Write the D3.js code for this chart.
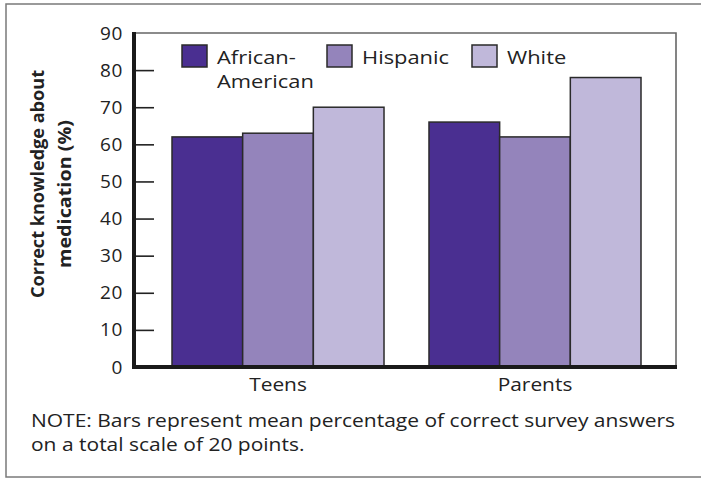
<!DOCTYPE html>
<html>
<head>
<meta charset="utf-8">
<script src="https://cdn.jsdelivr.net/npm/d3@7"></script>
<style>
  html, body { margin: 0; padding: 0; background: #fff; }
  svg { display: block; font-family: "Open Sans", "Noto Sans", sans-serif; }
</style>
</head>
<body>
<svg id="chart" width="701" height="478"></svg>
<script>
const groups = ["Teens", "Parents"];
const series = ["African-American", "Hispanic", "White"];
const legendLabels = [["African-", "American"], ["Hispanic"], ["White"]];
const africanAmerican = [62, 66];
const hispanic = [63, 62];
const white = [70, 78];
const yTicks = [0, 10, 20, 30, 40, 50, 60, 70, 80, 90];
const colors = ["#4a2f91", "#9484bb", "#c0b8da"];
const yTitle = ["Correct knowledge about", "medication (%)"];
const noteLines = ["NOTE: Bars represent mean percentage of correct survey answers", "on a total scale of 20 points."];

const values = [africanAmerican, hispanic, white];
const svg = d3.select("#chart");

// stretch a text/tspan element horizontally by a factor
function stretch(sel, k) {
  sel.each(function () {
    const cur = this.getComputedTextLength();
    if (cur > 0) d3.select(this).attr("textLength", cur * k).attr("lengthAdjust", "spacingAndGlyphs");
  });
}
function fit(sel, w) {
  sel.each(function () {
    const cur = this.getComputedTextLength();
    if (cur > 0) d3.select(this).attr("textLength", w).attr("lengthAdjust", "spacingAndGlyphs");
  });
}

// outer frame
svg.append("rect").attr("x", 6).attr("y", 4).attr("width", 710).attr("height", 473)
  .attr("fill", "none").attr("stroke", "#7a7a7a").attr("stroke-width", 1.5);

const plotL = 134, plotR = 676, plotT = 33, plotB = 367;
const y = d3.scaleLinear().domain([0, 90]).range([plotB, plotT]);
const x0 = d3.scaleBand().domain(groups).range([172, 641]).paddingInner(0.175).paddingOuter(0);
const x1 = d3.scaleBand().domain(series).range([0, x0.bandwidth()]).padding(0);
const color = d3.scaleOrdinal().domain(series).range(colors);

// plot frame (top and right)
svg.append("path")
  .attr("d", `M${plotL},${plotT}H${plotR}V${plotB}`)
  .attr("fill", "none").attr("stroke", "#666").attr("stroke-width", 1.6);

// bars
const data = [];
groups.forEach((g, gi) => series.forEach((s, si) => data.push({ g, s, v: values[si][gi] })));
svg.append("g").selectAll("rect").data(data).join("rect")
  .attr("x", d => x0(d.g) + x1(d.s))
  .attr("y", d => y(d.v))
  .attr("width", x1.bandwidth())
  .attr("height", d => y(0) - y(d.v))
  .attr("fill", d => color(d.s))
  .attr("stroke", "#2a2a2a").attr("stroke-width", 1.5);

// y axis
const yAxis = d3.axisLeft(y).tickValues(yTicks).tickSize(-20).tickPadding(11);
const gy = svg.append("g").attr("transform", `translate(${plotL},0)`).call(yAxis);
gy.select(".domain").remove();
gy.selectAll(".tick line").attr("stroke", "#222").attr("stroke-width", 1.6)
  .attr("opacity", d => (d === 0 || d === 90) ? 0 : 1);
gy.selectAll(".tick text").attr("font-size", 19).attr("fill", "#222")
  .attr("letter-spacing", 0.6)
  .attr("font-family", "'Open Sans', sans-serif");

// thick axis lines
svg.append("line").attr("x1", plotL).attr("x2", plotL).attr("y1", plotT - 1).attr("y2", plotB + 2)
  .attr("stroke", "#1a1a1a").attr("stroke-width", 4);
svg.append("line").attr("x1", plotL - 2).attr("x2", plotR + 1).attr("y1", plotB).attr("y2", plotB)
  .attr("stroke", "#1a1a1a").attr("stroke-width", 4);

// x axis labels
const xAxis = d3.axisBottom(x0).tickSize(0).tickPadding(0);
const gx = svg.append("g").attr("transform", `translate(0,${plotB})`).call(xAxis);
gx.select(".domain").remove();
gx.selectAll(".tick text").attr("font-size", 19).attr("fill", "#222")
  .attr("font-family", "'Open Sans', sans-serif").attr("y", 24).attr("dy", 0)
  .call(stretch, 1.1);

// y title
const yTitleW = [228, 148];
yTitle.forEach((t, i) => {
  svg.append("text")
    .attr("transform", `translate(${i === 0 ? 44 : 71},${i === 0 ? 184 : 194}) rotate(-90)`)
    .attr("text-anchor", "middle").attr("font-weight", "bold").attr("font-size", 18)
    .attr("fill", "#222").text(t)
    .call(fit, yTitleW[i]);
});

// legend
const legendX = [182, 327, 472];
series.forEach((s, i) => {
  const g = svg.append("g").attr("transform", `translate(${legendX[i]},45)`);
  g.append("rect").attr("width", 25).attr("height", 22).attr("fill", color(s))
    .attr("stroke", "#2a2a2a").attr("stroke-width", 1.5);
  legendLabels[i].forEach((l, li) => {
    g.append("text").attr("x", 35).attr("y", 19 + li * 24).attr("font-size", 17.5)
      .attr("fill", "#222").text(l)
      .call(stretch, 1.25);
  });
});

// note
const notes = noteLines.map((t, i) =>
  svg.append("text").attr("x", 31).attr("y", 427 + i * 24).attr("font-size", 19)
    .attr("fill", "#222").text(t));
const noteK = 644 / notes[0].node().getComputedTextLength();
notes.forEach(n => n.call(stretch, noteK));
</script>
</body>
</html>
